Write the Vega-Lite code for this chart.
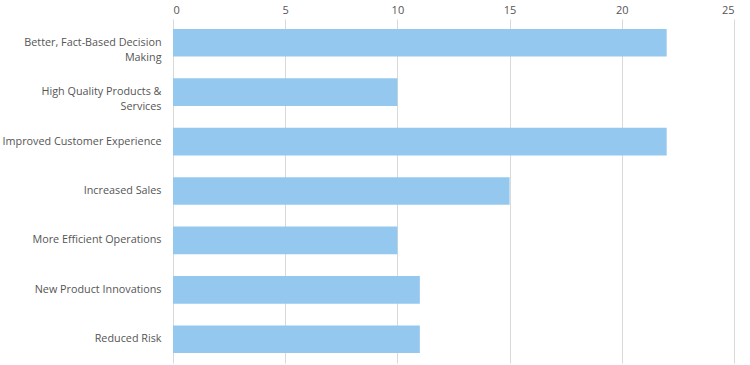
{
  "$schema": "https://vega.github.io/schema/vega-lite/v6.json",
  "width": 750,
  "height": 365,
  "autosize": {"type": "fit", "contains": "padding"},
  "padding": {"left": 2, "top": 4, "right": 16, "bottom": 2},
  "background": "white",
  "config": {
    "view": {"stroke": null},
    "font": "Open Sans"
  },
  "data": {
    "values": [
      {"category": "Better, Fact-Based Decision Making", "value": 22},
      {"category": "High Quality Products & Services", "value": 10},
      {"category": "Improved Customer Experience", "value": 22},
      {"category": "Increased Sales", "value": 15},
      {"category": "More Efficient Operations", "value": 10},
      {"category": "New Product Innovations", "value": 11},
      {"category": "Reduced Risk", "value": 11}
    ]
  },
  "mark": {"type": "bar", "color": "#95c8ee"},
  "encoding": {
    "y": {
      "field": "category",
      "type": "nominal",
      "sort": null,
      "scale": {"paddingInner": 0.44, "paddingOuter": 0.2},
      "axis": {
        "title": null,
        "domain": false,
        "ticks": false,
        "labelPadding": 12,
        "labelFont": "Open Sans",
        "labelFontSize": 10.8,
        "labelColor": "#555555",
        "labelLimit": 300,
        "labelLineHeight": 15,
        "labelExpr": "datum.label == 'Better, Fact-Based Decision Making' ? ['Better, Fact-Based Decision', 'Making'] : datum.label == 'High Quality Products & Services' ? ['High Quality Products &', 'Services'] : datum.label"
      }
    },
    "x": {
      "field": "value",
      "type": "quantitative",
      "scale": {"domain": [0, 25], "nice": false},
      "axis": {
        "orient": "top",
        "title": null,
        "values": [0, 5, 10, 15, 20, 25],
        "domain": false,
        "ticks": false,
        "labelPadding": 4,
        "labelFont": "Open Sans",
        "labelFontSize": 11,
        "labelColor": "#555555",
        "grid": true,
        "gridColor": "#d9d9d9",
        "gridWidth": 1
      }
    }
  }
}
